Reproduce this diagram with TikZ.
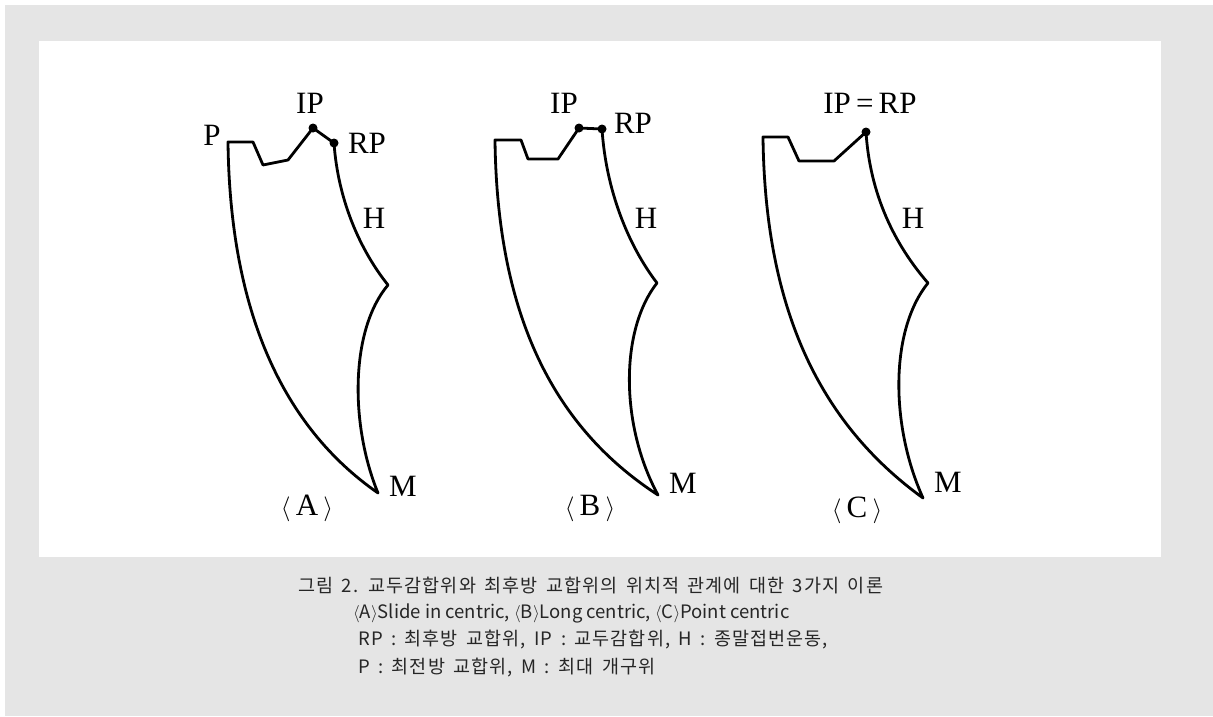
\documentclass[tikz,border=0pt]{standalone}
\usepackage{fontspec}
\setmainfont{Liberation Serif}
\newfontfamily\krfont[LetterSpace=6,WordSpace=1.6]{Noto Sans CJK KR}
\newfontfamily\krplain{Noto Sans CJK KR}
\usetikzlibrary{positioning}

\definecolor{panelgray}{RGB}{229,229,229}

\begin{document}
\begin{tikzpicture}[x=1pt, y=-1pt,
    outline/.style={line width=2.8pt, line join=round, line cap=round},
    pt/.style={circle, fill=black, inner sep=0pt, minimum size=9pt},
    lbl/.style={font=\fontsize{31}{33}\selectfont, inner sep=0pt},
    caption/.style={font=\krfont\fontsize{18.5}{21}\selectfont, anchor=west, inner sep=0pt, text=black!85}
]

% Background and panel
\fill[white] (0,0) rectangle (1213,716);
\fill[panelgray] (5,5) rectangle (1213,716);
\fill[white] (39,41) rectangle (1161,557);

% <A> Slide in centric
\coordinate (ipA) at (313,128);
\coordinate (rpA) at (334,143);
\draw[outline] (rpA) .. controls (338,200) and (360,250) .. (388,285)
    .. controls (350,330) and (350,425) .. (378,493)
    .. controls (283,427) and (230,312) .. (228,142)
    -- (253,142) -- (263,165) -- (288,160) -- (ipA) -- (rpA);
\node[pt] (dotIPA) at (ipA) {};
\node[pt] (dotRPA) at (rpA) {};
\node[lbl] (labPA) at (212,135) {P};
\node[lbl] (labIPA) at (310,103) {IP};
\node[lbl] (labRPA) at (367,143) {RP};
\node[lbl] (labHA) at (374,218) {H};
\node[lbl] (labMA) at (403,486) {M};
\node[lbl] (nameA) at (307,508) {$\langle$\,A\,$\rangle$};

% <B> Long centric
\coordinate (ipB) at (579,128);
\coordinate (rpB) at (602,129);
\draw[outline] (rpB) .. controls (606,190) and (628,245) .. (657,283)
    .. controls (620,330) and (620,425) .. (658,495)
    .. controls (550,425) and (497,310) .. (495,140)
    -- (521,140) -- (528,159) -- (558,159) -- (ipB) -- (rpB);
\node[pt] (dotIPB) at (ipB) {};
\node[pt] (dotRPB) at (rpB) {};
\node[lbl] (labIPB) at (564,103) {IP};
\node[lbl] (labRPB) at (633,123) {RP};
\node[lbl] (labHB) at (646,218) {H};
\node[lbl] (labMB) at (683,483) {M};
\node[lbl] (nameB) at (590,508) {$\langle$\,B\,$\rangle$};

% <C> Point centric
\coordinate (ipC) at (866,132);
\draw[outline] (ipC) .. controls (870,195) and (895,245) .. (928,283)
    .. controls (890,330) and (890,425) .. (923,498)
    .. controls (818,422) and (765,307) .. (763,137)
    -- (788,137) -- (799,161) -- (834,161) -- (ipC);
\node[pt] (dotIPC) at (ipC) {};
\node[lbl] (labIPC) at (870,103) {IP\,=\,RP};
\node[lbl] (labHC) at (913,218) {H};
\node[lbl] (labMC) at (948,482) {M};
\node[lbl] (nameC) at (857,510) {$\langle$\,C\,$\rangle$};

% Caption
\node[caption] (cap1) at (298,585) {그림 2. 교두감합위와 최후방 교합위의 위치적 관계에 대한 3가지 이론};
\node[caption, font=\krplain\fontsize{18.5}{21}\selectfont] (cap2) at (353,613) {$\langle$A$\rangle$Slide in centric, $\langle$B$\rangle$Long centric, $\langle$C$\rangle$Point centric};
\node[caption] (cap3) at (358,640) {RP : 최후방 교합위, IP : 교두감합위, H : 종말접번운동,};
\node[caption] (cap4) at (358,668) {P : 최전방 교합위, M : 최대 개구위};

\end{tikzpicture}
\end{document}
